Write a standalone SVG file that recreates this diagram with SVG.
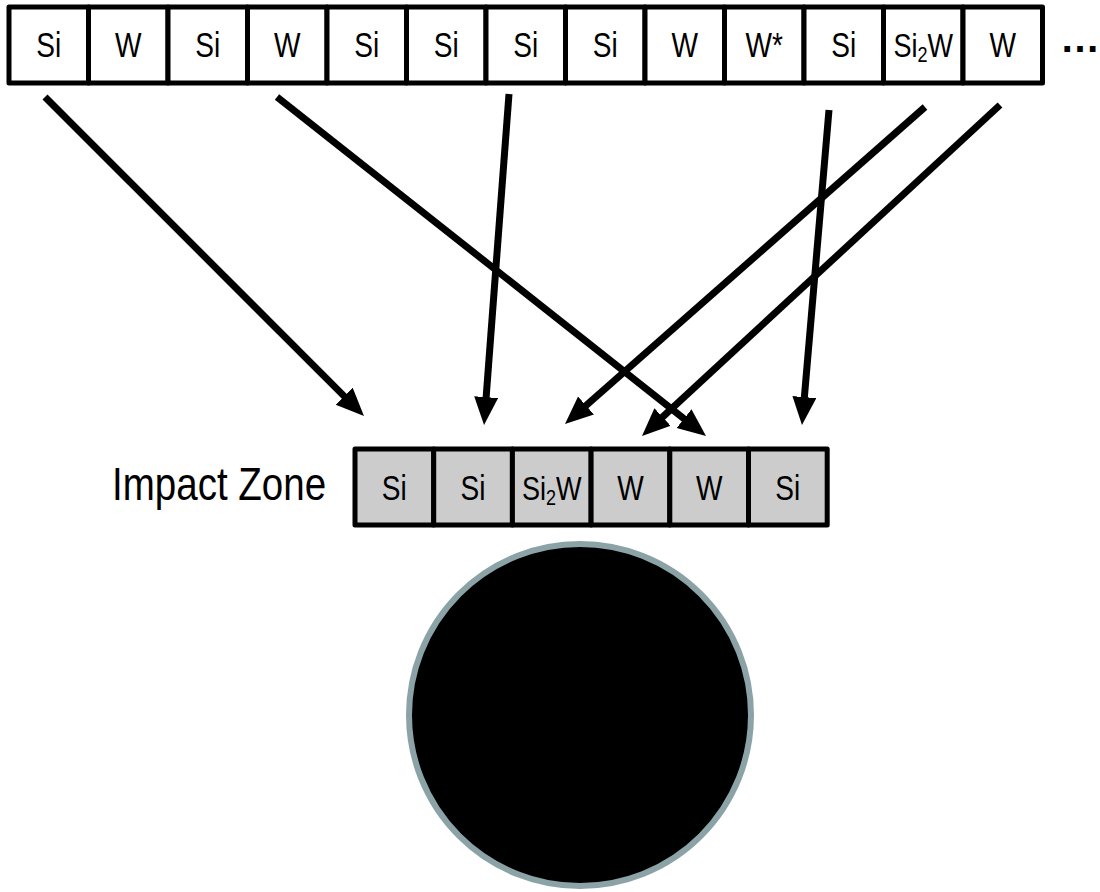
<svg xmlns="http://www.w3.org/2000/svg" width="1100" height="892" viewBox="0 0 1100 892">
<defs>
<style>
.cell{fill:#ffffff;stroke:#000000;stroke-width:5;stroke-linejoin:round}
.zcell{fill:#cccccc;stroke:#000000;stroke-width:5;stroke-linejoin:round}
.lbl{font-family:"Liberation Sans",Arial,sans-serif;font-size:36px;fill:#000000;text-anchor:middle}
.lbl2{font-family:"Liberation Sans",Arial,sans-serif;font-size:33px;fill:#000000;text-anchor:middle}
.conn{stroke:#000000;stroke-width:7;fill:none;marker-end:url(#ah)}
</style>
<marker id="ah" markerUnits="userSpaceOnUse" markerWidth="30" markerHeight="26" refX="2" refY="12" orient="auto">
<path d="M0,0 L28,12 L0,24 z" fill="#000000"/>
</marker>
</defs>
<rect width="1100" height="892" fill="#ffffff"/>

<g id="top-row">
<g id="t1"><rect class="cell" x="9" y="7" width="79.5" height="76"/><text class="lbl" transform="translate(48.75,57) scale(0.78,1)">Si</text></g>
<g id="t2"><rect class="cell" x="88.5" y="7" width="79.5" height="76"/><text class="lbl" transform="translate(128.25,57) scale(0.78,1)">W</text></g>
<g id="t3"><rect class="cell" x="168" y="7" width="79.5" height="76"/><text class="lbl" transform="translate(207.75,57) scale(0.78,1)">Si</text></g>
<g id="t4"><rect class="cell" x="247.5" y="7" width="79.5" height="76"/><text class="lbl" transform="translate(287.25,57) scale(0.78,1)">W</text></g>
<g id="t5"><rect class="cell" x="327" y="7" width="79.5" height="76"/><text class="lbl" transform="translate(366.75,57) scale(0.78,1)">Si</text></g>
<g id="t6"><rect class="cell" x="406.5" y="7" width="79.5" height="76"/><text class="lbl" transform="translate(446.25,57) scale(0.78,1)">Si</text></g>
<g id="t7"><rect class="cell" x="486" y="7" width="79.5" height="76"/><text class="lbl" transform="translate(525.75,57) scale(0.78,1)">Si</text></g>
<g id="t8"><rect class="cell" x="565.5" y="7" width="79.5" height="76"/><text class="lbl" transform="translate(605.25,57) scale(0.78,1)">Si</text></g>
<g id="t9"><rect class="cell" x="645" y="7" width="79.5" height="76"/><text class="lbl" transform="translate(684.75,57) scale(0.78,1)">W</text></g>
<g id="t10"><rect class="cell" x="724.5" y="7" width="79.5" height="76"/><text class="lbl" transform="translate(764.25,57) scale(0.78,1)">W*</text></g>
<g id="t11"><rect class="cell" x="804" y="7" width="79.5" height="76"/><text class="lbl" transform="translate(843.75,57) scale(0.78,1)">Si</text></g>
<g id="t12"><rect class="cell" x="883.5" y="7" width="79.5" height="76"/><text class="lbl2" transform="translate(923.25,57) scale(0.82,1)">Si<tspan font-size="22" dy="5">2</tspan><tspan dy="-5">W</tspan></text></g>
<g id="t13"><rect class="cell" x="963" y="7" width="79.5" height="76"/><text class="lbl" transform="translate(1002.75,57) scale(0.78,1)">W</text></g>
<g id="more"><text x="1060" y="52" font-family="Liberation Sans,Arial,sans-serif" font-size="40" font-weight="bold" fill="#000000">…</text></g>
</g>

<g id="label-impact"><text font-family="Liberation Sans,Arial,sans-serif" font-size="47" fill="#000000" transform="translate(112,500) scale(0.82,1)">Impact Zone</text></g>

<g id="impact-zone">
<g id="z1"><rect class="zcell" x="355" y="449" width="78.7" height="76"/><text class="lbl" transform="translate(394.35,500) scale(0.78,1)">Si</text></g>
<g id="z2"><rect class="zcell" x="433.7" y="449" width="78.7" height="76"/><text class="lbl" transform="translate(473.05,500) scale(0.78,1)">Si</text></g>
<g id="z3"><rect class="zcell" x="512.4" y="449" width="78.7" height="76"/><text class="lbl2" transform="translate(551.75,500) scale(0.82,1)">Si<tspan font-size="22" dy="5">2</tspan><tspan dy="-5">W</tspan></text></g>
<g id="z4"><rect class="zcell" x="591.1" y="449" width="78.7" height="76"/><text class="lbl" transform="translate(630.45,500) scale(0.78,1)">W</text></g>
<g id="z5"><rect class="zcell" x="669.8" y="449" width="78.7" height="76"/><text class="lbl" transform="translate(709.15,500) scale(0.78,1)">W</text></g>
<g id="z6"><rect class="zcell" x="748.5" y="449" width="78.7" height="76"/><text class="lbl" transform="translate(787.85,500) scale(0.78,1)">Si</text></g>
</g>

<g id="target"><circle cx="580" cy="715" r="171" fill="#000000" stroke="#8ba3a6" stroke-width="6"/></g>

<g id="connectors">
<line class="conn" x1="45" y1="97" x2="345.6" y2="397.6"/>
<line class="conn" x1="277" y1="97" x2="685.6" y2="419.9"/>
<line class="conn" x1="509" y1="94" x2="486" y2="399.1"/>
<line class="conn" x1="829" y1="110" x2="804.2" y2="399.1"/>
<line class="conn" x1="925" y1="107" x2="584.5" y2="406.8"/>
<line class="conn" x1="1000" y1="105" x2="661.1" y2="418.4"/>
</g>
</svg>
